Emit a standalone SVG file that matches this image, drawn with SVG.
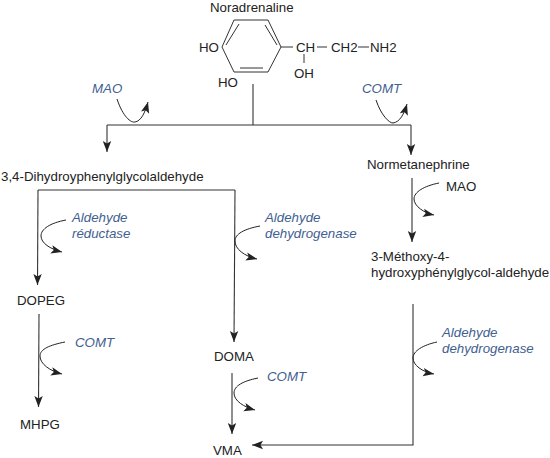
<svg xmlns="http://www.w3.org/2000/svg" width="550" height="458" viewBox="0 0 550 458">
<style>
text{font-family:"Liberation Sans",Arial,sans-serif;font-size:13.3px;fill:#222}
text.e{font-style:italic;fill:#3f6090}
.l{fill:none;stroke:#333;stroke-width:1.1}
.c{fill:none;stroke:#222;stroke-width:1}
.b{fill:none;stroke:#333;stroke-width:1}
</style>
<defs>
<marker id="a" markerUnits="userSpaceOnUse" markerWidth="12" markerHeight="12" refX="11" refY="6" orient="auto"><path d="M0 1.800L11 6L0 10.200L2.500 6Z" fill="#222"/></marker>
</defs>
<g id="noradrenaline">
<path class="b" d="M222 47L234 20L268 20L281 47L268 72L234 72Z"/>
<path class="b" d="M226 45L239 24M265 25L277 45M240 68L263 68M281 47L293 47M317 47L327 47M358 47L369 47M304 54L304 63"/>
<text x="210" y="12">Noradrenaline</text>
<text x="199" y="52">HO</text>
<text x="296" y="52">CH</text>
<text x="331" y="52">CH2</text>
<text x="370" y="52">NH2</text>
<text x="294" y="78">OH</text>
<text x="218" y="87">HO</text>
</g>
<g id="connectors">
<path class="l" d="M253 84V125M107 125H411"/>
<path class="l" marker-end="url(#a)" d="M107 125V152"/>
<path class="l" marker-end="url(#a)" d="M411 125V155"/>
<path class="l" d="M235 190H38"/>
<path class="l" marker-end="url(#a)" d="M38 190L37.500 285"/>
<path class="l" marker-end="url(#a)" d="M235 190L234 342"/>
<path class="l" marker-end="url(#a)" d="M39 314L38.500 407"/>
<path class="l" marker-end="url(#a)" d="M232 373V434"/>
<path class="l" marker-end="url(#a)" d="M412 178V242"/>
<path class="l" marker-end="url(#a)" d="M413 304V445H252"/>
<path class="c" marker-end="url(#a)" d="M117 99C123 117 131 123 135 122C141 121 145 113 148 102"/>
<path class="c" marker-end="url(#a)" d="M376 100C381 115 389 123 393 123C400 122 404 114 407 104"/>
<path class="c" marker-end="url(#a)" d="M66 220C50 223 41 229 41 236C41 243 50 249 62 252"/>
<path class="c" marker-end="url(#a)" d="M260 226C244 229 235 234 235 241C235 249 244 256 257 259"/>
<path class="c" marker-end="url(#a)" d="M65 342C50 345 40 349 40 356C40 364 50 371 62 374"/>
<path class="c" marker-end="url(#a)" d="M258 378C243 381 234 386 234 393C234 401 244 407 255 410"/>
<path class="c" marker-end="url(#a)" d="M439 183C424 186 414 192 414 199C414 206 424 213 434 215"/>
<path class="c" marker-end="url(#a)" d="M437 342C423 345 413 351 413 358C413 365 422 372 434 374"/>
</g>
<g id="mao1"><text class="e" x="92" y="93">MAO</text></g>
<g id="comt1"><text class="e" x="362" y="93">COMT</text></g>
<g id="dihydroxy"><text x="1" y="181">3,4-Dihydroyphenylglycolaldehyde</text></g>
<g id="normetanephrine"><text x="367" y="169">Normetanephrine</text></g>
<g id="mao2"><text x="446" y="191">MAO</text></g>
<g id="reductase"><text class="e" x="72" y="222">Aldehyde</text><text class="e" x="72" y="238">réductase</text></g>
<g id="dehydrogenase1"><text class="e" x="265" y="222">Aldehyde</text><text class="e" x="265" y="238">dehydrogenase</text></g>
<g id="methoxy"><text x="371" y="261">3-Méthoxy-4-</text><text x="371" y="277">hydroxyphénylglycol-aldehyde</text></g>
<g id="dopeg"><text x="17" y="305">DOPEG</text></g>
<g id="comt2"><text class="e" x="75" y="347">COMT</text></g>
<g id="dehydrogenase2"><text class="e" x="442" y="337">Aldehyde</text><text class="e" x="442" y="353">dehydrogenase</text></g>
<g id="doma"><text x="214" y="361">DOMA</text></g>
<g id="comt3"><text class="e" x="267" y="381">COMT</text></g>
<g id="mhpg"><text x="20" y="429">MHPG</text></g>
<g id="vma"><text x="213" y="455">VMA</text></g>
</svg>
